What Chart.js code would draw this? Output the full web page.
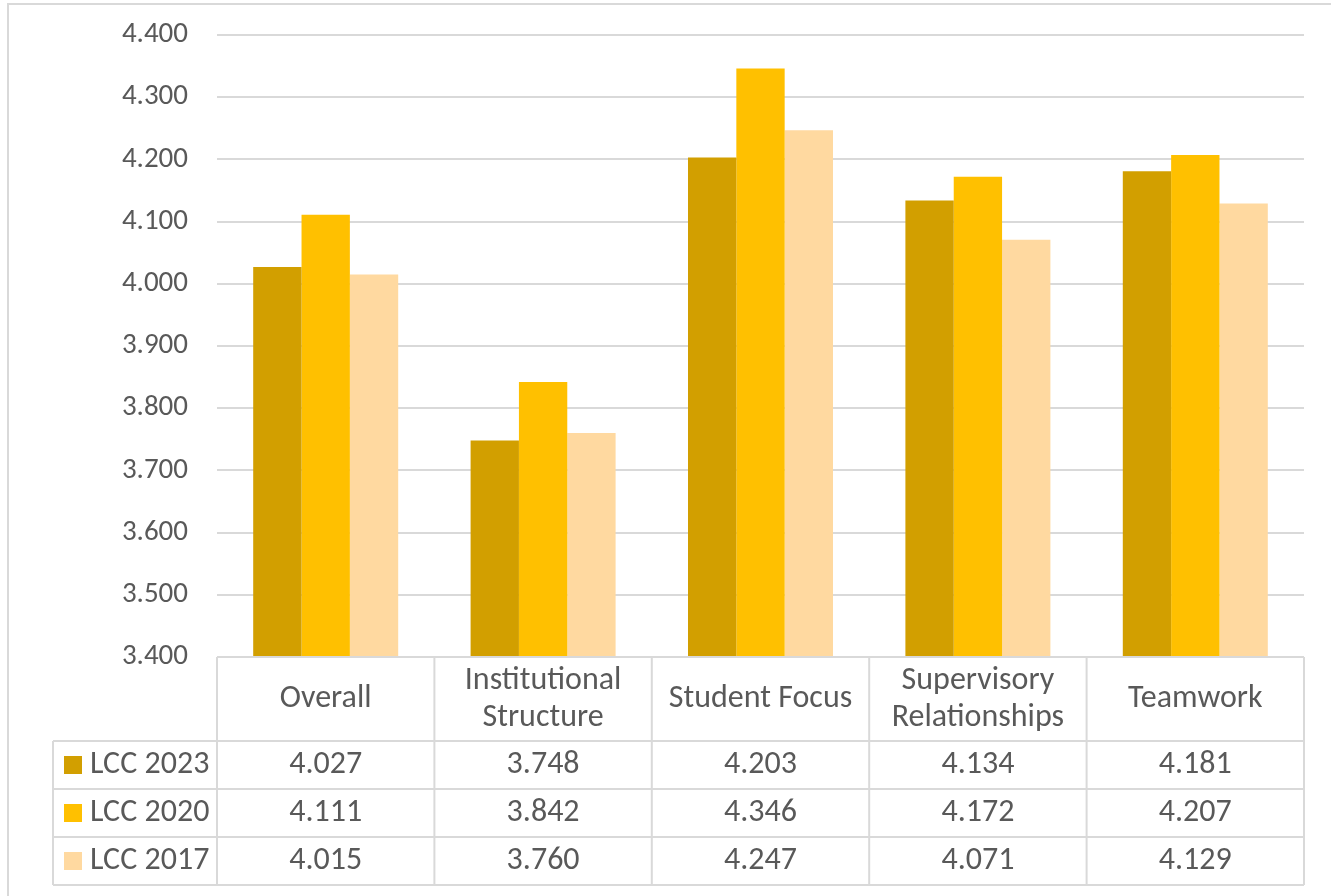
<!DOCTYPE html>
<html>
<head>
<meta charset="utf-8">
<script src="https://cdn.jsdelivr.net/npm/chart.js@4"></script>
<style>
  html, body { margin: 0; padding: 0; background: #fff; }
  #wrap { width: 1331px; height: 896px; position: relative; }
</style>
</head>
<body>
<div id="wrap"><canvas id="scoreChart" width="1331" height="896"></canvas></div>
<script>
var categories = [
  "Overall",
  ["Institutional", "Structure"],
  "Student Focus",
  ["Supervisory", "Relationships"],
  "Teamwork"
];
var seriesNames = ["LCC 2023", "LCC 2020", "LCC 2017"];
var lcc2023 = [4.027, 3.748, 4.203, 4.134, 4.181];
var lcc2020 = [4.111, 3.842, 4.346, 4.172, 4.207];
var lcc2017 = [4.015, 3.760, 4.247, 4.071, 4.129];
var yTicks = [3.4, 3.5, 3.6, 3.7, 3.8, 3.9, 4.0, 4.1, 4.2, 4.3, 4.4];

var colors = ["#D29F00", "#FFC000", "#FFD9A0"];
var FONT = "Calibri, Carlito, Lato, sans-serif";
var TEXT = "#595959";
var LINE = "#D9D9D9";

// draws the frame and the data table under the plot
var dataTable = {
  id: "dataTable",
  beforeDraw: function (chart) {
    var c = chart.ctx;
    c.save();
    c.fillStyle = "#fff";
    c.fillRect(0, 0, chart.width, chart.height);
    c.strokeStyle = LINE;
    c.lineWidth = 2;
    c.beginPath();
    c.moveTo(8, chart.height);
    c.lineTo(8, 4);
    c.lineTo(chart.width, 4);
    c.stroke();
    c.restore();
  },
  afterDraw: function (chart) {
    var c = chart.ctx;
    var x = chart.scales.x;
    var area = chart.chartArea;
    var step = (area.right - area.left) / categories.length;
    var top = area.bottom;
    var headBottom = top + 84;
    var rowH = 48;
    var bottom = headBottom + rowH * 3;
    var legLeft = 53;
    var series = [lcc2023, lcc2020, lcc2017];

    c.save();
    c.strokeStyle = LINE;
    c.lineWidth = 2;
    c.beginPath();
    c.moveTo(area.left, top);
    c.lineTo(area.right, top);
    for (var i = 0; i <= categories.length; i++) {
      var vx = area.left + step * i;
      c.moveTo(vx, top);
      c.lineTo(vx, bottom);
    }
    for (var r = 0; r <= 3; r++) {
      var ry = headBottom + rowH * r;
      c.moveTo(legLeft, ry);
      c.lineTo(area.right, ry);
    }
    c.moveTo(legLeft, headBottom);
    c.lineTo(legLeft, bottom);
    c.stroke();

    c.fillStyle = TEXT;
    c.font = "32px " + FONT;
    c.textAlign = "center";
    c.textBaseline = "middle";
    categories.forEach(function (lab, i) {
      var cx = x.getPixelForValue(i);
      var lines = Array.isArray(lab) ? lab : [lab];
      var midY = (top + headBottom) / 2;
      lines.forEach(function (ln, k) {
        c.fillText(ln, cx, midY + (k - (lines.length - 1) / 2) * 37);
      });
    });

    series.forEach(function (vals, r) {
      var cy = headBottom + rowH * r + rowH / 2;
      c.fillStyle = colors[r];
      c.fillRect(64, cy - 9, 18, 18);
      c.fillStyle = TEXT;
      c.textAlign = "left";
      c.fillText(seriesNames[r], 90, cy);
      c.textAlign = "center";
      vals.forEach(function (v, i) {
        c.fillText(v.toFixed(3), x.getPixelForValue(i), cy);
      });
    });
    c.restore();
  }
};

var ctx = document.getElementById("scoreChart").getContext("2d");
var scoreChart = new Chart(ctx, {
  type: "bar",
  data: {
    labels: categories,
    datasets: seriesNames.map(function (name, i) {
      return {
        label: name,
        data: [lcc2023, lcc2020, lcc2017][i],
        backgroundColor: colors[i],
        borderWidth: 0,
        barPercentage: 1.0,
        categoryPercentage: 0.667
      };
    })
  },
  options: {
    responsive: false,
    animation: false,
    layout: { padding: { left: 0, top: 35, right: 27, bottom: 239 } },
    plugins: { legend: { display: false }, tooltip: { enabled: false } },
    scales: {
      x: { display: false },
      y: {
        min: 3.4,
        max: 4.4,
        afterBuildTicks: function (axis) {
          axis.ticks = yTicks.map(function (v) { return { value: v }; });
        },
        afterFit: function (axis) {
          axis.width = 217;
          axis.paddingTop = 0;
          axis.paddingBottom = 0;
        },
        border: { display: false },
        grid: { color: LINE, lineWidth: 2, drawTicks: false },
        ticks: {
          color: TEXT,
          padding: 29,
          font: { family: FONT, size: 29 },
          callback: function (v) { return v.toFixed(3); }
        }
      }
    }
  },
  plugins: [dataTable]
});
</script>
</body>
</html>
